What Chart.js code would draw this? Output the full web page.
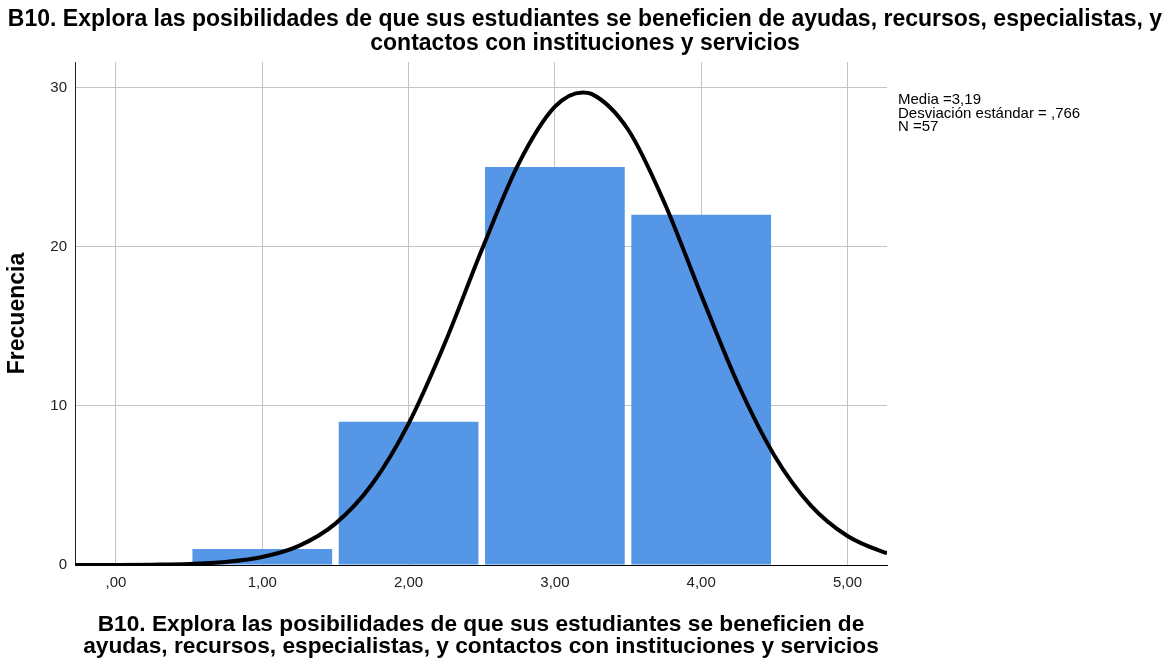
<!DOCTYPE html>
<html>
<head>
<meta charset="utf-8">
<script src="https://cdn.jsdelivr.net/npm/chart.js@4/dist/chart.umd.min.js"></script>
<style>
html,body{margin:0;padding:0;background:#fff;}
#wrap{width:1170px;height:662px;}
</style>
</head>
<body>
<div id="wrap"><canvas id="c" width="1170" height="662"></canvas></div>
<script>
const titleLines = ["B10. Explora las posibilidades de que sus estudiantes se beneficien de ayudas, recursos, especialistas, y", "contactos con instituciones y servicios"];
const xTitleLines = ["B10. Explora las posibilidades de que sus estudiantes se beneficien de", "ayudas, recursos, especialistas, y contactos con instituciones y servicios"];
const yTitle = "Frecuencia";
const binCenters = [1, 2, 3, 4];
const frequencies = [1, 9, 25, 22];
const curveX = [-0.28, 0, 0.25, 0.5, 0.75, 1, 1.25, 1.5, 1.75, 2, 2.25, 2.5, 2.75, 3, 3.19, 3.25, 3.5, 3.75, 4, 4.25, 4.5, 4.75, 5, 5.25, 5.27];
const curveY = [0.001, 0.005, 0.02, 0.06, 0.19, 0.5, 1.2, 2.6, 5.07, 8.88, 13.98, 19.79, 25.17, 28.79, 29.69, 29.6, 27.36, 22.73, 16.97, 11.4, 6.88, 3.73, 1.82, 0.8, 0.75];
const xTicks = [0, 1, 2, 3, 4, 5];
const xTickLabels = [",00", "1,00", "2,00", "3,00", "4,00", "5,00"];
const yTicks = [0, 10, 20, 30];
const statLines = ["Media =3,19", "Desviación estándar = ,766", "N =57"];

const FONT = "'Liberation Sans', Arial, sans-serif";

const statsPlugin = {
  id: 'stats',
  afterDraw(chart) {
    const ctx = chart.ctx;
    ctx.save();
    ctx.fillStyle = '#000';
    ctx.font = "15px " + FONT;
    ctx.textBaseline = 'middle';
    ctx.textAlign = 'left';
    statLines.forEach((t, i) => ctx.fillText(t, 898, 100 + i * 13.5));
    ctx.restore();
  }
};

new Chart(document.getElementById('c'), {
  data: {
    datasets: [
      {
        type: 'line',
        data: curveX.map((x, i) => ({x: x, y: curveY[i]})),
        borderColor: '#000',
        borderWidth: 4,
        pointRadius: 0,
        cubicInterpolationMode: 'monotone',
        order: 1
      },
      {
        type: 'bar',
        data: binCenters.map((x, i) => ({x: x, y: frequencies[i]})),
        backgroundColor: '#5596e6',
        borderWidth: 0,
        barPercentage: 0.955,
        categoryPercentage: 1,
        order: 2
      }
    ]
  },
  options: {
    responsive: false,
    animation: false,
    devicePixelRatio: 1,
    layout: {padding: 0},
    plugins: {
      legend: {display: false},
      tooltip: {enabled: false},
      title: {
        display: true,
        text: titleLines,
        color: '#000',
        font: {family: FONT, size: 23, weight: 'bold', lineHeight: '24px'},
        padding: {top: 8, bottom: 6}
      }
    },
    scales: {
      x: {
        type: 'linear',
        offset: false,
        min: -0.28,
        max: 5.27,
        afterBuildTicks: s => { s.ticks = xTicks.map(v => ({value: v})); },
        afterFit: s => { s.height = 97; },
        ticks: {
          callback: (v) => xTickLabels[xTicks.indexOf(v)],
          color: '#222',
          font: {family: FONT, size: 15},
          padding: 9,
          maxRotation: 0
        },
        grid: {color: '#c4c4c4', lineWidth: 1, drawTicks: false, offset: false},
        border: {color: '#000', width: 1},
        title: {
          display: true,
          text: xTitleLines,
          color: '#000',
          font: {family: FONT, size: 22.7, weight: 'bold', lineHeight: '22px'},
          padding: {top: 0, bottom: 4}
        }
      },
      y: {
        type: 'linear',
        min: 0,
        max: 31.6,
        afterBuildTicks: s => { s.ticks = yTicks.map(v => ({value: v})); },
        afterFit: s => { s.width = 75; },
        ticks: {
          color: '#222',
          font: {family: FONT, size: 15},
          padding: 8
        },
        grid: {color: '#c4c4c4', lineWidth: 1, drawTicks: false},
        border: {color: '#222', width: 1},
        title: {
          display: true,
          text: yTitle,
          color: '#000',
          font: {family: FONT, size: 23, weight: 'bold', lineHeight: '23px'},
          padding: {top: 6, bottom: 0}
        }
      },
      spacer: {
        type: 'linear',
        position: 'right',
        display: true,
        min: 0,
        max: 1,
        afterFit: s => { s.width = 283; },
        ticks: {display: false},
        grid: {display: false, drawOnChartArea: false},
        border: {display: false}
      }
    }
  },
  plugins: [statsPlugin]
});
</script>
</body>
</html>
